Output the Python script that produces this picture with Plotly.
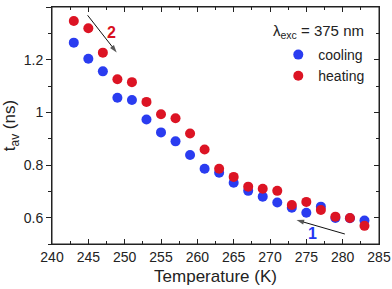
import plotly.graph_objects as go

temperature = [243, 245, 247, 249, 251, 253, 255, 257, 259, 261, 263,
               265, 267, 269, 271, 273, 275, 277, 279, 281, 283]
cooling = [1.265, 1.204, 1.156, 1.056, 1.047, 0.973, 0.924, 0.890, 0.838, 0.786, 0.771,
           0.733, 0.702, 0.680, 0.658, 0.638, 0.619, 0.642, 0.599, 0.598, 0.589]
heating = [1.347, 1.320, 1.227, 1.126, 1.115, 1.040, 0.993, 0.978, 0.920, 0.859, 0.786,
           0.755, 0.718, 0.710, 0.702, 0.648, 0.660, 0.629, 0.604, 0.599, 0.569]

# arrows: [tail, head] in data units
arrow2_x = [244.9, 248.9]
arrow2_y = [1.369, 1.228]
arrow1_x = [280.3, 273.65]
arrow1_y = [0.538, 0.591]

x_range = [240, 285]
x_tick_step = 5
y_range = [0.5, 1.4005]
y_tick_step = 0.2

BLUE = "#2236f2"
RED = "#d8101e"
FONT = "Liberation Sans, Arial, sans-serif"
LINE = "#222222"

fig = go.Figure()

fig.add_trace(go.Scatter(x=temperature, y=cooling, mode="markers", name="cooling",
                         marker=dict(size=10, color="#2a3cf0", line=dict(width=0))))
fig.add_trace(go.Scatter(x=temperature, y=heating, mode="markers", name="heating",
                         marker=dict(size=10, color="#dc1424", line=dict(width=0))))

for ax_, ay_ in ((arrow2_x, arrow2_y), (arrow1_x, arrow1_y)):
    fig.add_trace(go.Scatter(
        x=ax_, y=ay_, mode="lines+markers", showlegend=False, hoverinfo="skip",
        line=dict(color="#111", width=1),
        marker=dict(symbol=["circle", "arrow"], size=[0.1, 8], color="#111",
                    angleref="previous", line=dict(width=0)),
    ))


def xax(step, ticks, ticklen, side, line, labels, **kw):
    return dict(range=x_range, tickmode="linear", tick0=x_range[0], dtick=step,
                ticks=ticks, ticklen=ticklen, tickcolor=LINE, automargin=False,
                side=side, showline=line, linecolor=LINE, linewidth=1,
                showgrid=False, zeroline=False, showticklabels=labels, **kw)


def yax(step, ticks, ticklen, side, line, labels, **kw):
    return dict(range=y_range, tickmode="linear", tick0=0, dtick=step,
                ticks=ticks, ticklen=ticklen, tickcolor=LINE, automargin=False,
                side=side, showline=line, linecolor=LINE, linewidth=1,
                showgrid=False, zeroline=False, showticklabels=labels, **kw)


fig.update_layout(
    width=392, height=289,
    margin=dict(l=52, r=13, t=7, b=45),
    paper_bgcolor="white", plot_bgcolor="white",
    font=dict(family=FONT, size=14, color="#222"),
    showlegend=True,
    legend=dict(x=0.692, y=0.865, xanchor="left", yanchor="top",
                bgcolor="rgba(0,0,0,0)", font=dict(size=14), tracegroupgap=0),
    xaxis=xax(x_tick_step, "inside", 5, "bottom", True, True,
              title=dict(text="Temperature (K)", font=dict(size=17), standoff=6),
              tickfont=dict(size=14)),
    yaxis=yax(y_tick_step, "outside", 5, "left", True, True,
              title=dict(text="t<sub>av</sub> (ns)", font=dict(size=17), standoff=4),
              tickfont=dict(size=14)),
    xaxis2=xax(x_tick_step, "inside", 5, "top", True, False, overlaying="x", anchor="y2"),
    yaxis2=yax(y_tick_step, "inside", 5, "right", True, False, overlaying="y", anchor="x2"),
    xaxis3=xax(x_tick_step / 2, "inside", 3, "bottom", False, False, overlaying="x", anchor="y3"),
    yaxis3=yax(y_tick_step / 2, "outside", 3, "left", False, False, overlaying="y", anchor="x3"),
    xaxis4=xax(x_tick_step / 2, "inside", 3, "top", False, False, overlaying="x", anchor="y4"),
    yaxis4=yax(y_tick_step / 2, "inside", 3, "right", False, False, overlaying="y", anchor="x4"),
)

for n in ("2", "3", "4"):
    fig.add_trace(go.Scatter(x=temperature[:1], y=cooling[:1], xaxis="x" + n, yaxis="y" + n,
                             mode="markers", marker=dict(opacity=0), showlegend=False,
                             hoverinfo="skip"))

# frame
fig.add_shape(type="rect", xref="x domain", yref="y domain", x0=0, y0=0, x1=1, y1=1,
              line=dict(color=LINE, width=1), layer="below")

fig.add_annotation(xref="paper", yref="paper", x=0.96, y=0.898,
                   xanchor="right", yanchor="middle", showarrow=False,
                   text="λ<sub>exc</sub> = 375 nm", font=dict(size=15))
fig.add_annotation(x=248.2, y=1.305, xref="x", yref="y", showarrow=False,
                   text="<b>2</b>", font=dict(size=16, color=RED))
fig.add_annotation(x=275.9, y=0.541, xref="x", yref="y", showarrow=False,
                   text="<b>1</b>", font=dict(size=16, color=BLUE))

fig.write_html("out.html", config={"displayModeBar": False},
               post_script="document.body.style.margin='0';")
